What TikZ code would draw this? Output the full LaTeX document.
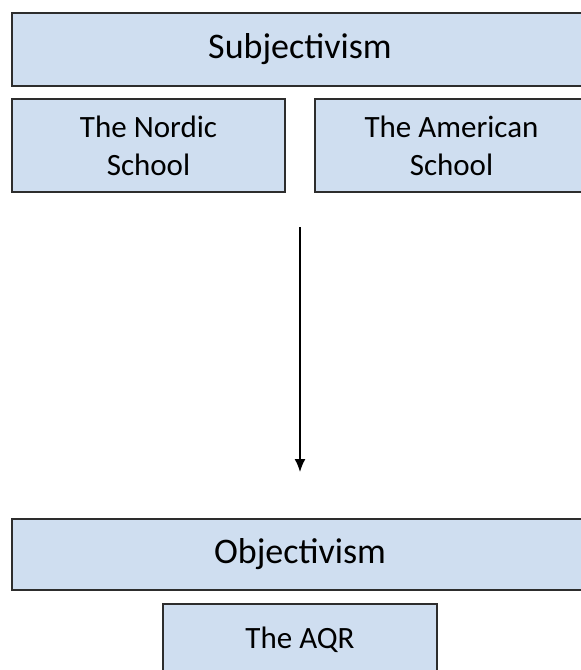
\documentclass[tikz,border=0pt]{standalone}
\usepackage{fontspec}
\setmainfont{Carlito}
\usetikzlibrary{arrows.meta}
\definecolor{boxfill}{RGB}{207,222,240}
\definecolor{boxline}{RGB}{45,45,45}
\tikzset{
  box/.style={draw=boxline, fill=boxfill, line width=2pt, rectangle, inner sep=0pt, align=center, text=black},
  bigtext/.style={font=\fontsize{36}{42}\selectfont},
  smalltext/.style={font=\fontsize{31}{38}\selectfont},
}
\begin{document}
\begin{tikzpicture}[x=1pt,y=-1pt]
\useasboundingbox (0,0) rectangle (581,670);
\node[box, bigtext, minimum width=576pt, minimum height=73pt] (subj) at (300,49.5) {Subjectivism};
\node[box, smalltext, minimum width=273pt, minimum height=93pt] (nordic) at (148.5,145.5) {The Nordic\\School};
\node[box, smalltext, minimum width=273pt, minimum height=93pt] (american) at (451.5,145.5) {The American\\School};
\coordinate (astart) at (300,227);
\coordinate (aend) at (300,472);
\draw[line width=1.6pt, -{Latex[length=13pt,width=11pt]}] (astart) -- (aend);
\node[box, bigtext, minimum width=576pt, minimum height=71pt] (obj) at (300,554.5) {Objectivism};
\node[box, smalltext, minimum width=274pt, minimum height=72pt] (aqr) at (300,640) {The AQR};
\end{tikzpicture}
\end{document}
